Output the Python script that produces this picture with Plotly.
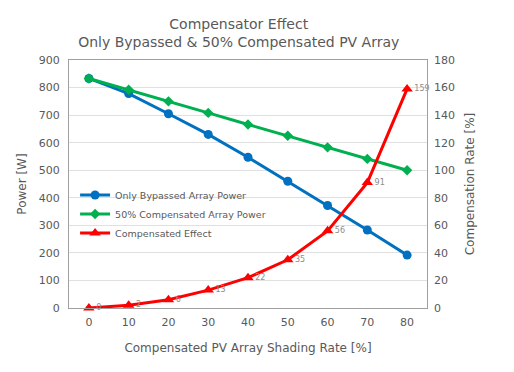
import plotly.graph_objects as go

shading = [0, 10, 20, 30, 40, 50, 60, 70, 80]
bypassed_power = [833, 778, 705, 630, 547, 460, 372, 283, 192]
compensated_power = [833, 792, 750, 708, 666, 625, 583, 541, 500]
compensated_effect = [0, 2, 6, 13, 22, 35, 56, 91, 159]

FONT = "DejaVu Sans"
GRAY = "#595959"

fig = go.Figure()
fig.add_trace(go.Scatter(
    x=shading, y=bypassed_power, name="Only Bypassed Array Power",
    mode="lines+markers", line=dict(color="#0070C0", width=3),
    marker=dict(symbol="circle", size=9, color="#0070C0")))
fig.add_trace(go.Scatter(
    x=shading, y=compensated_power, name="50% Compensated Array Power",
    mode="lines+markers", line=dict(color="#00B050", width=3),
    marker=dict(symbol="diamond", size=8, color="#00B050")))
fig.add_trace(go.Scatter(
    x=shading, y=compensated_effect, name="Compensated Effect",
    mode="lines+markers+text", yaxis="y2", cliponaxis=False,
    line=dict(color="#FF0000", width=3),
    marker=dict(symbol="triangle-up", size=10, color="#FF0000"),
    text=[str(v) for v in compensated_effect], textposition="middle right",
    textfont=dict(family=FONT, size=8, color="#8c8c8c")))

fig.update_layout(
    width=506, height=364,
    margin=dict(l=61, r=87, t=52, b=64, autoexpand=False),
    paper_bgcolor="white", plot_bgcolor="white",
    font=dict(family=FONT, color=GRAY, size=11),
    title=dict(text="Compensator Effect<br>Only Bypassed & 50% Compensated PV Array",
               x=0.456, xanchor="center", y=0.943, yanchor="top",
               font=dict(family=FONT, size=14, color=GRAY)),
    xaxis=dict(range=[-5, 85], tickvals=shading, ticks="", showgrid=False,
               zeroline=False, showline=True, linecolor="#A0A0A0", mirror=True,
               automargin=False, ticklabelstandoff=4,
               title=dict(text="Compensated PV Array Shading Rate [%]",
                          font=dict(size=12, color=GRAY), standoff=15)),
    yaxis=dict(range=[0, 900], dtick=100, showgrid=True, gridcolor="#E0E0E0",
               zeroline=False, showline=True, linecolor="#A0A0A0", mirror=True,
               ticks="", automargin=False, ticklabelstandoff=6,
               title=dict(text="Power [W]", font=dict(size=12, color=GRAY), standoff=9)),
    yaxis2=dict(range=[0, 180], dtick=20, overlaying="y", side="right",
                showgrid=False, zeroline=False, ticks="", automargin=False,
                ticklabelstandoff=6,
                title=dict(text="Compensation Rate [%]", font=dict(size=12, color=GRAY), standoff=11)),
    legend=dict(x=0.017, y=0.514, xanchor="left", yanchor="top",
                bgcolor="rgba(0,0,0,0)", font=dict(size=9.5, color=GRAY),
                tracegroupgap=0),
    showlegend=True,
)

fig.write_html("out.html")
